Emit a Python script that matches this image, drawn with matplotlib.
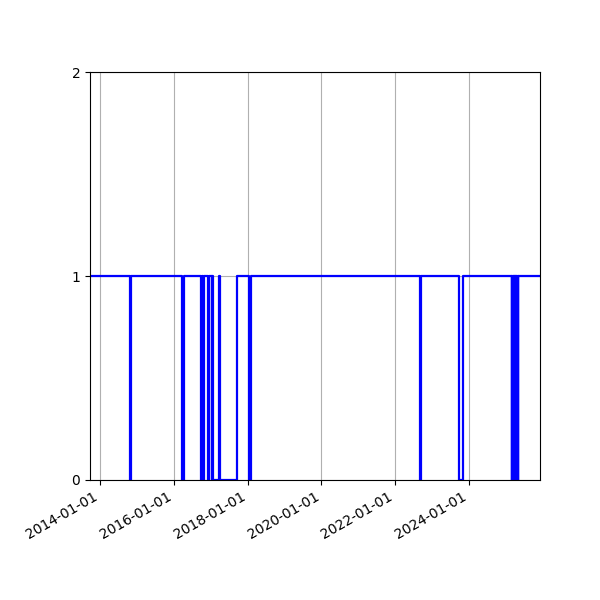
import numpy as np
import pandas as pd
import matplotlib
matplotlib.use("Agg")
import matplotlib.pyplot as plt
import matplotlib.dates as mdates

# state changes (steps-post): date when the value switches, and the new value
step_dates = [
    "2013-09-24",
    "2014-10-26", "2014-11-01",
    "2016-03-27", "2016-04-07",
    "2016-09-26", "2016-10-03",
    "2016-10-17", "2016-10-24",
    "2016-12-06", "2016-12-14",
    "2017-01-09", "2017-01-14",
    "2017-01-24", "2017-03-27",
    "2017-04-04", "2017-09-21",
    "2018-01-16", "2018-01-30",
    "2022-08-30", "2022-09-10",
    "2023-09-20", "2023-11-06",
    "2025-02-28", "2025-03-02",
    "2025-03-06", "2025-03-08",
    "2025-03-13", "2025-03-15",
    "2025-03-20", "2025-03-22",
    "2025-03-27", "2025-03-29",
    "2025-04-03", "2025-04-05",
    "2025-04-10", "2025-04-12",
    "2025-04-17", "2025-04-19",
    "2025-04-24", "2025-04-26",
    "2025-05-01", "2025-05-03",
    "2025-12-04",
]
step_values = [
    1,
    0, 1,
    0, 1,
    0, 1,
    0, 1,
    0, 1,
    0, 1,
    0, 1,
    0, 1,
    0, 1,
    0, 1,
    0, 1,
    0, 1,
    0, 1,
    0, 1,
    0, 1,
    0, 1,
    0, 1,
    0, 1,
    0, 1,
    0, 1,
    0, 1,
    1,
]

dates = pd.to_datetime(step_dates)

fig, ax = plt.subplots(figsize=(6, 6), dpi=100)

ax.plot(dates, step_values, drawstyle="steps-post", color="blue", linewidth=1.6)

ax.set_xlim(dates[0], dates[-1])
ax.set_ylim(0, 2)
ax.set_yticks([0, 1, 2])
ax.xaxis.set_major_locator(mdates.YearLocator(2, month=1, day=1))
ax.xaxis.set_major_formatter(mdates.DateFormatter("%Y-%m-%d"))
ax.grid(True)
fig.autofmt_xdate()
fig.subplots_adjust(left=0.15, right=0.9, top=0.88, bottom=0.2)

fig.savefig("out.png", dpi=100)
